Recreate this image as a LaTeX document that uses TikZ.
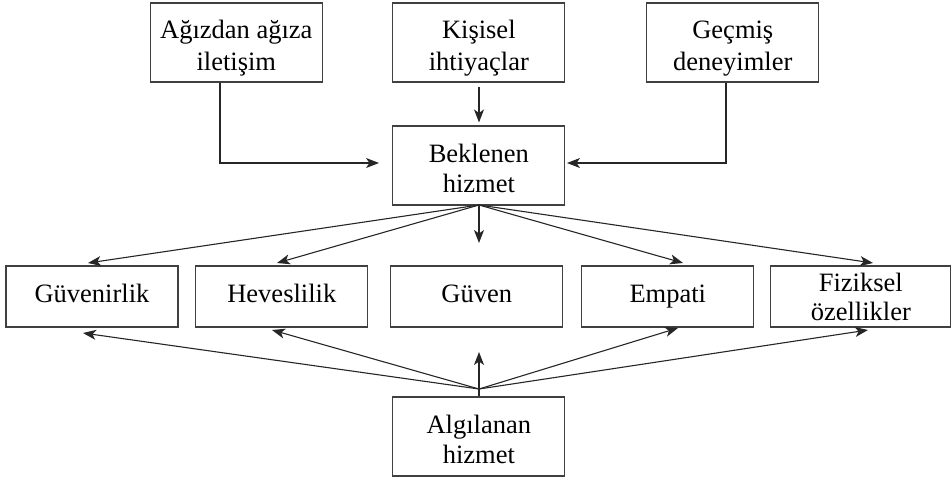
\documentclass[tikz,border=0pt]{standalone}
\usepackage{fontspec}
\setmainfont{Liberation Serif}
\usetikzlibrary{arrows.meta}
\newcommand{\twolines}[2]{\rule{0pt}{30pt}#1\\#2\rule[-6pt]{0pt}{0pt}}
\tikzset{
  box/.style={draw=black!75, line width=1.1pt, inner sep=0pt, align=center,
    minimum width=172pt, minimum height=79pt,
    font=\fontsize{26.5}{32}\selectfont},
  rowbox/.style={box, minimum height=61pt, text height=18pt, text depth=6pt},
  conn/.style={draw=black!85, line width=1.1pt,
    -{Stealth[length=13pt,width=10pt,inset=3.5pt]}}
}
\begin{document}
\begin{tikzpicture}[x=1pt,y=-1pt]
\useasboundingbox (0,0) rectangle (952,480);
% top row
\node[box] (ag) at (236.3,42.5) {\twolines{Ağızdan ağıza}{iletişim}};
\node[box] (ki) at (478.8,42.5) {\twolines{Kişisel}{ihtiyaçlar}};
\node[box] (ge) at (732.8,42.5) {\twolines{Geçmiş}{deneyimler}};
% middle
\node[box, font=\fontsize{26.5}{30}\selectfont] (bek) at (478.8,165.5) {\twolines{Beklenen}{hizmet}};
% dimension row
\node[rowbox] (g1) at (92,296.5) {Güvenirlik};
\node[rowbox] (g2) at (281.8,296.5) {Heveslilik};
\node[rowbox] (g3) at (476.7,296.5) {Güven};
\node[rowbox] (g4) at (667.8,296.5) {Empati};
\node[box, minimum height=61pt, minimum width=180pt] (g5) at (860.8,296.5) {Fiziksel\\[-3pt]özellikler};
% bottom
\node[box, font=\fontsize{26.5}{30}\selectfont] (alg) at (478.8,436.5) {\twolines{Algılanan}{hizmet}};
% helper coordinates
\coordinate (aL) at (220,163);
\coordinate (aLe) at (379,163);
\coordinate (gR) at (726,163);
\coordinate (gRe) at (567,163);
\coordinate (bs) at (479,205);
\coordinate (as) at (479,389);
\coordinate (t1) at (88,263);
\coordinate (t2) at (277,263);
\coordinate (t3) at (479,243);
\coordinate (t4) at (683,263);
\coordinate (t5) at (873,263);
\coordinate (u1) at (83,333);
\coordinate (u2) at (272,330);
\coordinate (u3) at (479,352);
\coordinate (u4) at (678,328);
\coordinate (u5) at (868,330);
% connectors into Beklenen
\draw[conn] (ag.south -| aL) |- (aLe);
\draw[conn] (ge.south -| gR) |- (gRe);
\draw[conn, shorten <=4pt, shorten >=3pt] (ki.south -| bs) -- (bek.north -| bs);
% fan out from Beklenen
\draw[conn] (bs) -- (t1);
\draw[conn] (bs) -- (t2);
\draw[conn] (bs) -- (t3);
\draw[conn] (bs) -- (t4);
\draw[conn] (bs) -- (t5);
% fan out from Algılanan
\draw[conn] (as) -- (u1);
\draw[conn] (as) -- (u2);
\draw[conn] (as) -- (u3);
\draw[conn] (as) -- (u4);
\draw[conn] (as) -- (u5);
\draw[draw=black!85, line width=1.1pt] (as) -- (alg.north -| as);
\end{tikzpicture}
\end{document}
